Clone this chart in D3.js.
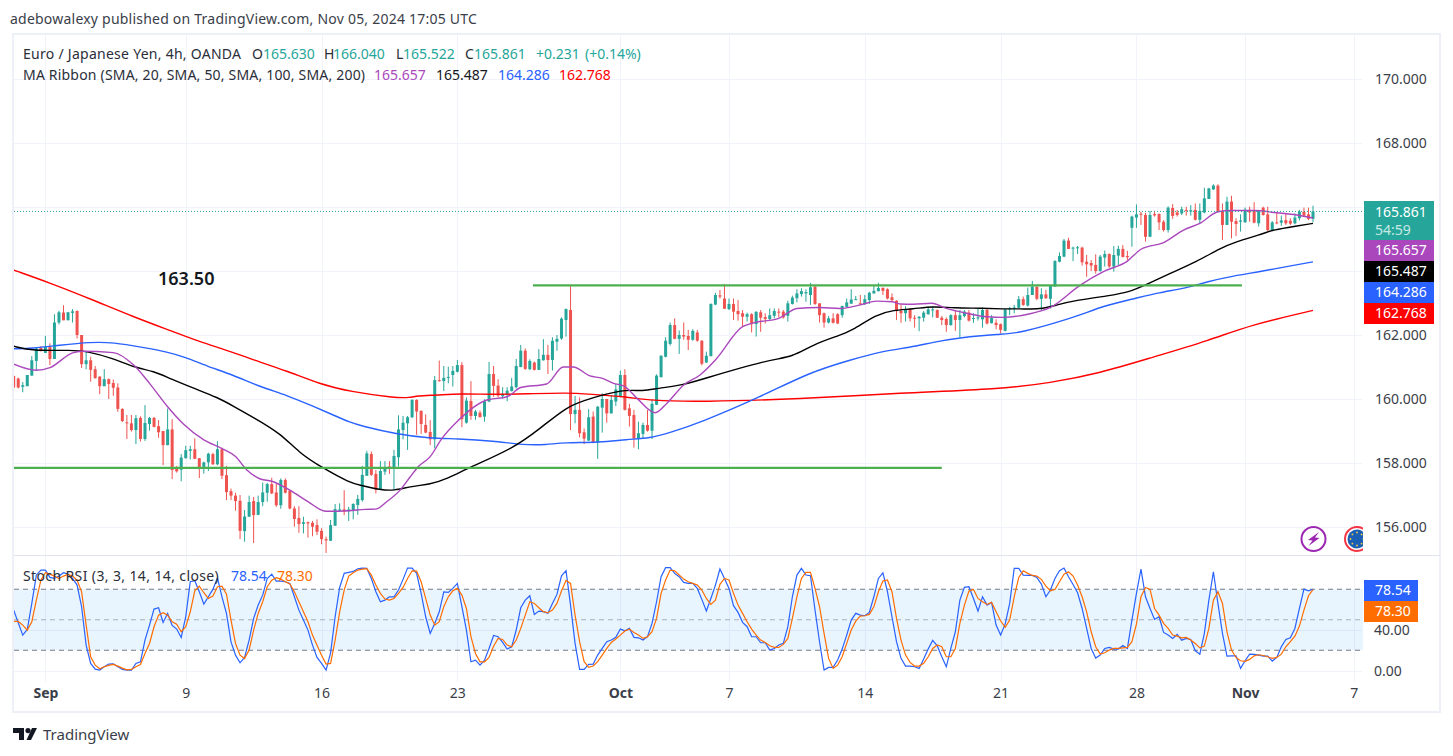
<!DOCTYPE html>
<html>
<head>
<meta charset="utf-8">
<title>EUR/JPY 4h</title>
<script src="https://cdn.jsdelivr.net/npm/d3@7"></script>
<style>
  html, body { margin: 0; padding: 0; background: #fff; }
  svg { display: block; }
  text { font-family: "Noto Sans", sans-serif; font-size: 14px; fill: #2a2e39; }
  .tick text { font-family: "Noto Sans", sans-serif; font-size: 14px; fill: #3a3e49; }
</style>
</head>
<body>
<svg id="chart" width="1453" height="756"></svg>
<script>
// Bar by bar (4h candles, oldest first)
var opens = [160.72,160.64,160.38,160.40,160.73,161.19,161.60,161.44,161.63,161.25,
162.39,162.70,162.46,162.69,162.75,162.00,161.09,161.21,160.93,160.70,
160.40,160.62,160.50,160.36,159.69,159.27,159.24,159.03,159.41,158.75,
159.22,159.41,159.15,159.00,158.56,159.05,157.83,157.79,158.15,158.38,
158.43,158.15,157.88,158.02,158.28,157.96,158.43,157.62,157.12,156.98,
156.82,155.87,156.32,156.81,156.38,156.78,157.07,157.34,157.08,156.68,
157.47,157.14,156.58,156.28,156.10,156.15,156.13,156.06,155.88,155.62,
155.57,156.04,156.51,156.55,156.49,156.51,156.69,156.84,157.60,158.28,
157.66,157.16,157.73,157.89,157.86,158.18,159.03,159.24,159.43,159.97,
159.63,159.19,158.97,158.74,160.59,160.56,160.67,160.75,160.85,161.06,
159.26,159.94,159.47,159.57,159.45,159.92,160.78,160.42,160.09,160.13,
160.25,160.37,161.00,161.51,160.93,161.14,160.91,161.21,161.38,161.22,
161.79,161.89,162.47,162.78,159.53,159.66,158.96,158.70,159.45,158.64,
159.73,160.00,159.55,159.92,160.07,160.75,159.71,159.50,158.77,158.91,
159.19,159.01,159.82,160.68,161.32,161.72,162.31,161.88,162.00,161.97,
161.85,162.08,161.82,161.14,161.34,162.95,163.24,163.14,162.81,162.97,
162.75,162.68,162.57,162.65,162.34,162.71,162.56,162.50,162.60,162.73,
162.73,162.60,162.97,163.15,163.28,163.30,163.25,163.51,162.99,162.68,
162.39,162.52,162.65,162.62,162.88,162.98,163.10,162.99,162.97,163.09,
163.30,163.37,163.47,163.43,163.18,163.07,162.75,162.68,162.81,162.54,
162.52,162.54,162.65,162.78,162.78,162.54,162.50,162.31,162.62,162.47,
162.59,162.70,162.51,162.52,162.49,162.78,162.37,162.38,162.34,162.13,
162.81,162.83,162.85,163.12,162.92,163.25,163.51,163.13,163.27,163.13,
163.51,164.29,164.45,164.95,164.70,164.71,164.73,164.29,164.25,164.19,
164.00,164.42,164.53,164.14,164.48,164.69,164.47,165.35,165.67,165.79,
165.75,165.07,165.78,165.78,165.54,165.28,165.97,165.83,165.80,165.91,
165.86,165.91,165.60,165.83,166.25,166.55,166.67,165.87,165.44,166.17,
165.56,165.54,165.52,165.91,165.88,165.49,165.98,165.77,165.28,165.52,
165.51,165.59,165.57,165.49,165.65,165.85,165.77,165.63];

var highs = [160.74,160.67,160.53,160.75,161.34,161.60,161.65,161.97,161.74,162.65,
162.76,162.93,162.72,162.81,162.77,162.00,161.51,161.32,161.03,160.71,
160.93,160.64,160.61,160.49,159.71,159.50,159.50,159.50,159.46,159.81,
159.44,159.44,159.34,159.00,159.70,159.37,157.91,158.28,158.54,158.54,
158.77,158.15,158.04,158.32,158.32,158.68,158.48,157.91,157.20,157.07,
157.00,156.53,156.98,156.94,156.98,157.39,157.38,157.54,157.36,157.52,
157.52,157.15,156.65,156.65,156.32,156.17,156.19,156.24,155.96,155.70,
156.22,156.72,156.74,157.15,156.63,156.74,157.00,157.91,158.38,158.36,
157.78,158.06,158.06,158.06,158.41,159.49,159.47,159.47,159.99,159.99,
159.64,159.52,159.34,160.72,161.20,161.03,161.01,161.03,161.22,161.15,
160.05,160.56,159.66,159.64,159.99,161.16,161.03,160.62,160.37,160.37,
160.66,161.25,161.69,161.58,161.24,161.17,161.56,161.87,161.69,161.93,
162.00,162.55,162.83,163.53,160.10,160.05,159.08,159.68,159.61,159.78,
160.18,160.00,160.13,160.47,160.89,160.93,159.85,159.66,159.29,159.26,
159.66,159.99,160.77,161.37,161.93,162.39,162.52,162.14,162.39,162.16,
162.18,162.16,161.84,161.48,162.99,163.32,163.41,163.59,163.14,163.14,
163.09,162.78,162.70,162.68,162.75,162.78,162.68,162.83,162.83,162.83,
162.78,163.07,163.23,163.43,163.46,163.43,163.63,163.53,162.99,162.70,
162.59,162.68,162.68,162.91,163.14,163.43,163.22,163.25,163.25,163.35,
163.56,163.63,163.49,163.46,163.30,163.09,162.94,162.90,162.83,162.62,
162.59,162.75,162.88,162.90,162.80,162.59,162.55,162.65,162.78,162.78,
162.78,162.78,162.68,162.83,162.86,162.83,162.62,162.49,162.36,162.82,
162.88,162.94,163.22,163.20,163.48,163.69,163.51,163.46,163.41,163.56,
164.34,164.58,165.00,165.04,164.76,164.78,164.76,164.50,164.34,164.52,
164.50,164.64,164.55,164.78,164.79,164.81,164.63,165.73,166.08,165.85,
165.82,165.88,165.88,165.80,165.59,166.02,166.09,165.91,166.01,166.01,
166.06,166.11,166.11,166.60,166.60,166.71,166.71,166.11,166.32,166.35,
165.65,165.77,165.98,166.01,166.15,165.91,166.01,166.01,165.56,165.85,
165.73,165.80,165.65,165.80,165.91,165.98,165.98,166.04];

var lows = [160.34,160.33,160.21,160.40,160.73,160.88,161.48,161.44,161.06,161.25,
162.33,162.46,162.46,162.39,161.89,160.97,160.93,160.54,160.64,160.15,
160.40,160.00,160.10,159.60,159.28,158.75,158.98,158.59,158.67,158.69,
159.01,159.11,158.79,157.93,158.55,157.50,157.70,157.43,158.14,158.11,
158.12,157.53,157.67,157.75,157.94,157.93,157.50,156.84,156.84,156.51,
155.62,155.54,156.32,155.50,156.37,156.65,156.79,157.03,156.63,156.57,
157.05,156.55,156.01,155.82,155.80,155.67,155.71,155.75,155.46,155.19,
155.57,156.04,156.48,156.37,156.19,156.24,156.38,156.79,157.60,157.60,
157.05,157.16,157.63,157.66,157.16,157.89,158.74,158.41,159.40,158.88,
158.91,158.93,158.56,158.46,160.54,160.25,160.49,160.39,160.83,159.12,
159.23,159.35,159.35,159.43,159.29,159.90,160.07,160.05,160.02,159.93,
160.23,160.33,160.99,160.91,160.91,160.89,160.91,161.20,160.78,160.89,
161.51,161.85,161.95,159.03,159.24,158.80,158.59,158.69,158.62,158.13,
158.95,159.26,159.55,159.78,160.05,159.64,159.14,158.48,158.43,158.77,
158.98,158.75,159.81,160.68,161.30,161.67,161.87,161.41,161.85,161.53,
161.82,161.79,161.05,161.13,161.33,162.93,163.14,162.81,162.78,162.47,
162.45,162.28,162.42,162.08,161.95,162.10,162.36,162.47,162.52,162.55,
162.51,162.42,162.95,163.02,163.20,163.04,162.94,162.94,162.39,162.23,
162.36,162.36,162.34,162.54,162.86,162.97,163.09,162.94,162.94,162.97,
163.29,163.36,163.25,163.11,163.04,162.47,162.38,162.42,162.42,162.23,
162.12,162.42,162.63,162.55,162.53,162.31,162.10,162.29,162.13,161.92,
162.55,162.42,162.38,162.45,162.23,162.33,162.36,162.18,162.05,162.11,
162.62,162.68,162.85,162.91,162.89,163.25,163.09,162.78,163.13,162.83,
163.51,164.27,164.43,164.69,164.31,164.53,164.17,163.82,164.00,163.92,
163.98,164.14,164.10,163.98,164.19,164.42,164.34,164.76,165.35,165.44,
164.92,165.06,165.70,165.28,165.23,165.20,165.63,165.70,165.75,165.73,
165.73,165.58,165.49,165.80,166.25,166.53,165.83,164.97,165.44,165.02,
165.09,165.23,165.51,165.54,165.49,165.39,165.73,165.25,165.26,165.46,
165.41,165.44,165.44,165.46,165.58,165.71,165.59,165.522];

var closes = [160.36,160.36,160.43,160.75,161.21,161.58,161.50,161.63,161.25,162.39,
162.71,162.46,162.71,162.74,162.00,161.09,161.21,160.91,160.65,160.40,
160.62,160.47,160.35,159.69,159.31,159.25,159.03,159.40,158.75,159.25,
159.41,159.13,158.96,158.56,159.05,157.78,157.74,158.17,158.40,158.43,
158.13,157.87,158.02,158.29,157.96,158.43,157.60,157.09,156.98,156.81,
155.88,156.33,156.78,156.37,156.78,157.08,157.34,157.05,156.68,157.47,
157.07,156.58,156.25,156.09,156.15,156.11,156.01,155.85,155.62,155.58,
156.06,156.56,156.55,156.48,156.55,156.72,156.88,157.63,158.30,157.63,
157.16,157.75,157.86,157.85,158.22,159.05,159.26,159.43,159.97,159.61,
159.22,158.95,158.74,160.59,160.57,160.66,160.69,160.88,161.06,159.37,
159.95,159.47,159.61,159.43,159.93,160.78,160.41,160.11,160.16,160.26,
160.39,161.03,161.51,160.94,161.19,160.91,161.25,161.38,161.22,161.82,
161.88,162.51,162.81,159.53,159.66,158.93,158.76,159.43,158.64,159.76,
160.00,159.55,159.97,160.30,160.75,159.66,159.47,158.77,158.93,159.19,
159.01,159.85,160.73,161.35,161.82,162.31,161.88,162.00,161.95,161.85,
162.13,161.82,161.10,161.35,162.97,163.25,163.20,162.82,162.97,162.73,
162.65,162.57,162.65,162.34,162.72,162.54,162.50,162.62,162.75,162.71,
162.55,162.99,163.17,163.30,163.37,163.34,163.49,162.97,162.62,162.39,
162.52,162.38,162.36,162.91,163.02,163.11,163.12,162.97,163.12,163.32,
163.38,163.47,163.38,163.14,163.09,162.75,162.68,162.81,162.52,162.51,
162.57,162.70,162.80,162.80,162.54,162.47,162.31,162.62,162.47,162.62,
162.73,162.45,162.53,162.55,162.78,162.36,162.53,162.31,162.16,162.80,
162.83,162.86,163.12,162.94,163.25,163.51,163.13,163.27,163.15,163.54,
164.31,164.47,164.95,164.69,164.73,164.74,164.27,164.21,164.17,164.00,
164.45,164.53,164.14,164.50,164.69,164.44,164.43,165.70,165.77,165.77,
165.07,165.75,165.74,165.52,165.28,165.98,165.72,165.75,165.93,165.88,
165.90,165.60,165.88,166.27,166.58,166.67,165.85,165.44,166.17,165.54,
165.47,165.58,165.91,165.83,165.51,165.89,165.75,165.28,165.52,165.49,
165.58,165.49,165.48,165.67,165.85,165.73,165.63,165.861];

// moving averages, read at the bends
var ma20Bars = [0,5,8,13,15,22,26.5,30,34,37.5,42,46,49,51.5,54.5,57,61,65,69,74,77.6,80,82.4,85.4,87.6,89.4,92,94.6,97.9,104.5,109,112,117.7,121.4,123.6,127.3,129.9,132.5,135,137.7,141.7,144.3,148,151.6,155,161,163.4,169,173,178,182.5,187,190.6,194,195.8,198.7,202.8,206,210.5,215,218.6,224,229,235.6,240.7,246,249,254,258.4,262,266,269,274,279,283.4,287];
var ma20 = [161.09,160.90,160.98,161.44,161.49,161.45,161.06,160.49,159.76,159.22,158.72,158.45,158.20,157.78,157.50,157.43,157.15,156.79,156.49,156.51,156.55,156.56,156.79,157.16,157.57,157.89,158.20,158.77,159.29,159.97,160.07,160.36,160.47,161.00,161.00,160.72,160.65,160.49,160.39,160.02,159.57,159.87,160.44,160.75,161.22,162.26,162.38,162.52,162.83,162.86,162.83,162.94,163.06,163.04,162.97,162.96,162.99,162.83,162.68,162.57,162.55,162.65,162.86,163.56,163.98,164.31,164.68,164.89,165.28,165.49,165.85,165.89,165.89,165.82,165.75,165.657];

var ma50Bars = [0,4,13,16,22,26.5,31,34.5,40.4,45,48.5,53,59,63,68.4,74.3,76.5,81,83.9,88,92,95.7,100.8,110.4,116.3,122.2,126,130,135.4,139,142,148,151.6,167,171.9,176.7,182,185,190.6,194.3,198.7,203,207.6,214,218.6,222.3,226.7,230.4,234.8,242,246.2,250.3,255.5,261.3,266.5,270,275.3,278,281,287];
var ma50 = [161.65,161.50,161.53,161.50,161.27,160.99,160.87,160.64,160.30,160.05,159.78,159.42,158.92,158.32,157.83,157.38,157.31,157.16,157.13,157.28,157.33,157.50,157.87,158.46,159.08,159.76,159.95,160.13,160.30,160.24,160.33,160.44,160.60,161.24,161.30,161.71,161.97,162.12,162.65,162.78,162.81,162.90,162.84,162.84,162.81,162.82,162.80,162.94,163.09,163.23,163.33,163.58,163.93,164.29,164.71,164.92,165.13,165.28,165.35,165.487];

var ma100Bars = [0,4,10,17,22,28.6,34,38,42.6,48.5,54.4,60.3,66,70.6,74.3,76.5,84.6,92,97.9,106,112.6,117.7,121.4,129.5,135.4,140.6,145,151.6,164.9,175.9,184.8,192,198,203,209,218,221.6,229,235.6,240.7,247.4,253,259,263.6,269.5,275.3,281.2,287];
var ma100 = [161.57,161.58,161.68,161.78,161.77,161.61,161.47,161.30,161.03,160.75,160.38,160.12,159.78,159.50,159.27,159.17,158.90,158.77,158.76,158.69,158.56,158.57,158.64,158.64,158.74,158.77,158.95,159.26,160.06,160.84,161.22,161.50,161.61,161.77,161.92,162.03,162.05,162.33,162.62,162.91,163.13,163.33,163.46,163.67,163.85,163.98,164.14,164.286];

var ma200Bars = [0,8,17.6,26.4,35.3,41,47,53,60.3,67.7,74.3,83.9,87.6,89,93.5,98.6,106,113.3,122.2,127.3,135.4,140.6,151.6,173.7,195.8,217.9,228.9,240,251,264.3,273.1,287];
var ma200 = [164.03,163.63,163.09,162.57,162.10,161.79,161.53,161.22,160.88,160.46,160.23,160.04,160.04,160.10,160.12,160.17,160.14,160.16,160.20,160.15,160.07,159.95,159.91,160.00,160.19,160.31,160.50,160.81,161.28,161.84,162.31,162.768];

// stoch RSI, one value per bar
var stochK = [58.4,46.2,34.3,39.7,64.9,92.2,97.1,97.1,90,89,91.3,94.5,93.2,89,82.6,61.7,24.6,6.9,1.4,.5,
3.7,6.3,6.6,3.7,1.1,.5,.5,6.9,8.5,29.4,43.9,59.4,60.7,46.5,55.2,43.6,40.1,32,52,85.8,
86.8,76.1,64.2,71.3,78.4,89.7,71.3,55.2,27.8,14.9,7.5,12.7,29.4,50.4,63.3,72.9,89,93.2,86.4,86.4,
85.8,84.2,71.3,58.4,48.8,39.1,24.6,12.7,6.9,.5,17.2,52,80.3,93.9,94.8,95.8,98.4,99,98.7,89,
76.1,66.5,68.1,71.3,71.3,77.8,88.1,99,99,93.9,74.5,52,35.9,45.5,56.8,76.1,75.5,79.4,84.2,61.7,
39.1,8.5,10.1,5.3,10.1,21.4,33.9,32.7,27.2,20.8,23,39.2,60.7,68.1,72.3,54.3,57.5,56.9,55.3,64.9,
73.6,91.6,96.5,63.3,26.3,1.1,1.1,6,6.3,15,21.4,27.9,29.5,32.1,40.1,38.5,40.8,32.1,31.7,29.5,
32.7,45.6,66.5,90.7,99.4,99.4,93.9,90.7,85.2,84.2,84.2,79.4,68.8,57.5,69.7,82.6,98.1,89,79.4,62.7,
56.2,46.6,42.4,32.7,32.7,26.9,26.9,19.8,21.4,24.7,26.3,42.4,71.3,92.3,98.7,92.3,91.6,58.5,27.9,.5,
3.1,3.1,10.2,20.8,34.3,48.8,55.3,53.6,53,56.2,71.3,89,94.5,76.2,52,27.9,11.8,4.4,4.4,3.7,
2.1,11.1,20.8,29.2,24,13.4,3.7,21.4,37.5,68.1,80.4,81,69.7,57.5,71.3,63.3,65.9,44,34.3,44.9,
64.9,98.7,98.7,92.2,91.9,91.9,90,83.6,71.3,77.8,89,96.4,99,90.6,83.2,75.2,60,40.7,21.4,12.1,
15,21.4,22.4,20.8,20.8,24.3,21.4,48.8,74.5,98,71.3,60,49.4,52,36.9,34.3,31.1,34.9,29.4,31.1,
30.1,19.1,15.9,35.9,68.1,95.5,64.9,35.9,14,14.3,14.3,2.1,9.5,15.9,15.6,15,14,14,9.2,12.7,
23,30.1,31.7,40.7,60,78.7,77.1,78.54];

var stochD = [47.5,47.5,43.9,39.1,47.2,68.1,87.4,94.5,93.2,91.3,89,91.3,92.9,91.3,87.4,76.1,43.9,13.4,5.3,1.8,
3.7,5,5.9,4.3,2.4,.8,1.1,3.7,5.9,16.6,26.2,42.3,53.6,55.9,53.6,47.2,44.9,37.5,42.3,56.8,
77.1,81.6,75.2,69.7,72,81,81.6,73.9,48.8,26.2,14.9,11.7,19.8,39.1,55.2,66.5,81,87.4,89.7,88.4,
85.8,83.6,76.1,66.5,56.8,47.2,34.3,24.6,14.9,6.3,6.9,29.4,56.8,77.8,91.3,94.5,97.1,98,98.4,92.2,
82.6,74.5,69.1,68.1,69.7,74.5,80.3,89,96.4,96.1,85.8,69.7,53.6,43.9,47.2,61.7,71.3,77.1,79.4,72.9,
60,32.7,16.6,8.5,8.5,12.7,23.6,31.1,30.1,24.7,23,29.5,40.8,53.6,66.5,64.9,60.7,56.9,55.9,58.5,
64.9,76.8,87.1,84.2,53.6,27.9,8.6,3.1,4.4,8.6,15,21.4,27.2,30.5,34.3,38.2,40.1,36.9,34.3,31.1,
32.7,37.5,50.4,74.6,87.5,97.1,96.5,92.3,88.4,85.8,84.2,82.6,77.8,69.7,63.9,68.1,83.3,89,87.5,74.6,
63.3,55.3,47.2,40.1,34.3,29.5,27.2,24,22.4,22.4,25.3,31.1,50.4,71.3,89,94.9,94.9,79.4,61.7,35.9,
11.8,2.1,5.3,13.4,26.3,39.2,47.8,52.7,53,54.3,61.7,76.2,86.5,87.5,76.2,50.4,29.5,15,7.9,4.4,
4.4,7,13.4,21.4,24.7,23,13.4,13.4,21.4,45.6,63.3,76.8,78.4,69.7,66.5,63.9,65.9,56.9,48.1,41.7,
48.8,71.3,90,96.4,93.9,91.9,91.3,88.1,81.6,77.1,78.4,85.8,93.2,95.5,91.3,82.6,71.3,56.8,37.5,23,
15.9,17.2,19.8,21.4,21.4,22,22.4,27.9,44.9,71.3,80.3,78.4,60,53.6,45.6,40.7,34.3,33.3,31.7,32,
29.5,26.2,22,23.7,40.7,68.1,76.2,64.9,37.5,19.8,12.7,9.5,8.9,10.8,14.3,15.3,14.6,13.4,11.8,12.7,
15.9,23,27.9,33.3,43,58.4,72.3,78.30];
// the stoch values above were read with a slightly short ruler
var stochReadFactor = 1.018;

// axis ticks
var priceGridTicks = [156, 158, 160, 162, 164, 166, 168, 170];
var priceLabelTicks = [156, 158, 160, 162, 168, 170]; // 164 and 166 sit behind the price tags
var stochTicks = [0, 40];
var stochLevels = [80, 50, 20];
var timeTickBars = [7, 38, 68, 98, 134, 158, 188, 218, 248, 272, 296];
var timeTickLabels = ["Sep", "9", "16", "23", "Oct", "7", "14", "21", "28", "Nov", "7"];
var monthLabels = ["Sep", "Oct", "Nov"];

// hand drawn green lines: [first bar, last bar, price]
var resistanceLine = [114.7, 271.3, 163.55];
var supportLine = [-0.2, 205, 157.85];
var noteLabel = "163.50";

// price labels on the right
var lastLabels = ["165.657", "165.487", "164.286", "162.768"];
var lastLabelColors = ["#ab47bc", "#000000", "#2962ff", "#ff0000"];
var stochLabels = ["78.54", "78.30"];
var stochColors = ["#2962ff", "#ff6d00"];
var lastClose = 165.861;

var UP = "#26a69a", DOWN = "#ef5350", GRID = "#f0f3fa", FRAME = "#eef0f7";

var svg = d3.select("#chart");

// scales
var x = d3.scaleLinear().domain([0, 287]).range([13.7, 1313]);
var y = d3.scaleLinear().domain([156, 170]).range([527, 79]);
var ys = d3.scaleLinear().domain([0, 100]).range([670.6, 568.9]);

var defs = svg.append("defs");
defs.append("clipPath").attr("id", "plot").append("rect")
  .attr("x", 14).attr("y", 35).attr("width", 1349).attr("height", 520);
defs.append("clipPath").attr("id", "lower").append("rect")
  .attr("x", 14).attr("y", 556).attr("width", 1349).attr("height", 128);
defs.append("clipPath").attr("id", "badge").append("rect")
  .attr("x", 1300).attr("y", 520).attr("width", 63).attr("height", 35);

// grid
var grid = svg.append("g");
grid.selectAll("line.gy").data(priceGridTicks).enter().append("line")
  .attr("x1", 14).attr("x2", 1362)
  .attr("y1", function(d) { return Math.round(y(d)) + 0.5; })
  .attr("y2", function(d) { return Math.round(y(d)) + 0.5; })
  .attr("stroke", GRID);
grid.selectAll("line.gs").data(stochTicks).enter().append("line")
  .attr("x1", 14).attr("x2", 1362)
  .attr("y1", function(d) { return Math.round(ys(d)) + 0.5; })
  .attr("y2", function(d) { return Math.round(ys(d)) + 0.5; })
  .attr("stroke", GRID);
grid.selectAll("line.gx").data(timeTickBars).enter().append("line")
  .attr("x1", function(d) { return Math.round(x(d)) + 0.5; })
  .attr("x2", function(d) { return Math.round(x(d)) + 0.5; })
  .attr("y1", 35).attr("y2", 682)
  .attr("stroke", GRID);

// candles
var candleData = d3.range(opens.length).map(function(i) {
  return { i: i, o: opens[i], h: highs[i], l: lows[i], c: closes[i] };
});
var candles = svg.append("g").attr("clip-path", "url(#plot)")
  .selectAll("g").data(candleData).enter().append("g")
  .attr("fill", function(d) { return d.c >= d.o ? UP : DOWN; })
  .attr("stroke", function(d) { return d.c >= d.o ? UP : DOWN; });
candles.append("line")
  .attr("x1", function(d) { return x(d.i); })
  .attr("x2", function(d) { return x(d.i); })
  .attr("y1", function(d) { return y(d.h); })
  .attr("y2", function(d) { return y(d.l); });
candles.append("rect")
  .attr("stroke", "none")
  .attr("x", function(d) { return x(d.i) - 1.5; })
  .attr("width", 3)
  .attr("y", function(d) { return y(Math.max(d.o, d.c)); })
  .attr("height", function(d) { return Math.max(1, Math.abs(y(d.o) - y(d.c))); });

// moving averages
var smoothLine = d3.line().curve(d3.curveBasis)
  .x(function(d) { return x(d[0]); })
  .y(function(d) { return y(d[1]); });
var bendLine = d3.line().curve(d3.curveMonotoneX)
  .x(function(d) { return x(d[0]); })
  .y(function(d) { return y(d[1]); });
var ribbons = [
  [ma200Bars, ma200, "#ff0000", smoothLine],
  [ma100Bars, ma100, "#2962ff", smoothLine],
  [ma50Bars, ma50, "#000000", smoothLine],
  [ma20Bars, ma20, "#ab47bc", bendLine]
];
var maGroup = svg.append("g").attr("clip-path", "url(#plot)");
ribbons.forEach(function(r) {
  maGroup.append("path")
    .datum(d3.zip(r[0], r[1]))
    .attr("fill", "none").attr("stroke", r[2]).attr("stroke-width", 1.4)
    .attr("d", r[3]);
});

// green trend lines
[resistanceLine, supportLine].forEach(function(t) {
  maGroup.append("line")
    .attr("x1", x(t[0])).attr("x2", x(t[1]))
    .attr("y1", y(t[2])).attr("y2", y(t[2]))
    .attr("stroke", "#4caf50").attr("stroke-width", 2.2);
});
svg.append("text").attr("x", 158).attr("y", 285).style("font-weight", 600)
  .style("font-size", "18px").style("fill", "#131722").text(noteLabel);

// last price line
svg.append("line")
  .attr("x1", 14).attr("x2", 1362)
  .attr("y1", y(lastClose)).attr("y2", y(lastClose))
  .attr("stroke", UP).attr("stroke-dasharray", "1 2");

// stoch band and levels
var lowerPane = svg.append("g").attr("clip-path", "url(#lower)");
lowerPane.append("rect")
  .attr("x", 14).attr("width", 1349)
  .attr("y", ys(80)).attr("height", ys(20) - ys(80))
  .attr("fill", "#2196f3").attr("fill-opacity", 0.1);
stochLevels.forEach(function(v) {
  lowerPane.append("line")
    .attr("x1", 14).attr("x2", 1362)
    .attr("y1", ys(v)).attr("y2", ys(v))
    .attr("stroke", "#787b86")
    .attr("stroke-opacity", v === 50 ? 0.55 : 1)
    .attr("stroke-dasharray", "5 4");
});
var stochLine = d3.line()
  .x(function(d, i) { return x(i); })
  .y(function(d) { return ys(d * stochReadFactor); });
lowerPane.append("path").datum(stochK)
  .attr("fill", "none").attr("stroke", stochColors[0]).attr("stroke-width", 1.2)
  .attr("d", stochLine);
lowerPane.append("path").datum(stochD)
  .attr("fill", "none").attr("stroke", stochColors[1]).attr("stroke-width", 1.2)
  .attr("d", stochLine);

// frame and pane divider
svg.append("rect").attr("x", 13).attr("y", 34).attr("width", 1427).attr("height", 678)
  .attr("fill", "none").attr("stroke", FRAME).attr("stroke-width", 2);
svg.append("line").attr("x1", 14).attr("x2", 1440).attr("y1", 555.5).attr("y2", 555.5)
  .attr("stroke", "#e0e3eb");

// axes
var priceAxis = svg.append("g").attr("transform", "translate(1367,0)")
  .call(d3.axisRight(y).tickValues(priceLabelTicks).tickFormat(d3.format(".3f")).tickSize(0).tickPadding(8));
priceAxis.select(".domain").remove();
var stochAxis = svg.append("g").attr("transform", "translate(1367,0)")
  .call(d3.axisRight(ys).tickValues(stochTicks).tickFormat(d3.format(".2f")).tickSize(0).tickPadding(7));
stochAxis.select(".domain").remove();
var timeAxis = svg.append("g").attr("transform", "translate(0,680)")
  .call(d3.axisBottom(x).tickValues(timeTickBars)
    .tickFormat(function(d, i) { return timeTickLabels[i]; }).tickSize(0).tickPadding(8));
timeAxis.select(".domain").remove();
timeAxis.selectAll("text")
  .style("font-weight", function(d, i) { return monthLabels.indexOf(timeTickLabels[i]) >= 0 ? 700 : 400; });

// right hand price tags
svg.append("rect").attr("x", 1364).attr("y", 201).attr("width", 70).attr("height", 39)
  .attr("fill", UP);
svg.append("text").attr("x", 1375).attr("y", 217).style("fill", "#fff").text(d3.format(".3f")(lastClose));
svg.append("text").attr("x", 1375).attr("y", 235).style("fill", "#c6e9e5").text("54:59");
lastLabels.forEach(function(t, i) {
  svg.append("rect").attr("x", 1364).attr("y", 240 + i * 21).attr("width", 70).attr("height", 21)
    .attr("fill", lastLabelColors[i]);
  svg.append("text").attr("x", 1375).attr("y", 255 + i * 21).style("fill", "#fff").text(t);
});
stochLabels.forEach(function(t, i) {
  svg.append("rect").attr("x", 1364).attr("y", 580 + i * 21).attr("width", 54).attr("height", 21)
    .attr("fill", stochColors[i]);
  svg.append("text").attr("x", 1375).attr("y", 595 + i * 21).style("fill", "#fff").text(t);
});

// badges
var badge = svg.append("g").attr("clip-path", "url(#badge)");
badge.append("circle").attr("cx", 1313.5).attr("cy", 539).attr("r", 12)
  .attr("fill", "#fff").attr("stroke", "#9c27b0").attr("stroke-width", 2);
badge.append("path").attr("fill", "#9c27b0")
  .attr("d", "M1319 532 L1308 540 L1312.5 540.5 L1308.5 546 L1319.5 538 L1315 537.5 Z");
badge.append("circle").attr("cx", 1357).attr("cy", 539).attr("r", 12)
  .attr("fill", "#fff").attr("stroke", "#f23645").attr("stroke-width", 2);
badge.append("circle").attr("cx", 1357).attr("cy", 539).attr("r", 9.5).attr("fill", "#1a5fb4");
d3.range(8).forEach(function(k) {
  badge.append("circle").attr("r", 0.9).attr("fill", "#f6c944")
    .attr("cx", 1357 + 6.5 * Math.cos(k * Math.PI / 4))
    .attr("cy", 539 + 6.5 * Math.sin(k * Math.PI / 4));
});

// header text
function label(px, py, txt, color, spacing) {
  return svg.append("text").attr("x", px).attr("y", py)
    .style("fill", color || "#2a2e39")
    .style("letter-spacing", (spacing || 0) + "px")
    .text(txt);
}
label(10, 24, "adebowalexy published on TradingView.com, Nov 05, 2024 17:05 UTC", "#3a3e49", 0.22);
label(23, 59, "Euro / Japanese Yen, 4h, OANDA", null, 0.27);
label(252, 59, "O");
label(263, 59, "165.630", UP);
label(324, 59, "H");
label(333, 59, "166.040", UP);
label(396, 59, "L");
label(403, 59, "165.522", UP);
label(465, 59, "C");
label(474, 59, "165.861", UP);
label(536, 59, "+0.231", UP);
label(585, 59, "(+0.14%)", UP);
label(23, 80, "MA Ribbon (SMA, 20, SMA, 50, SMA, 100, SMA, 200)", null, 0.19);
label(374, 80, "165.657", "#ab47bc");
label(436, 80, "165.487", "#131722");
label(498, 80, "164.286", "#2962ff");
label(559, 80, "162.768", "#ff0000");
label(23, 581, "Stoch RSI (3, 3, 14, 14, close)", null, 0.38);
label(231, 581, "78.54", stochColors[0]);
label(277, 581, "78.30", stochColors[1]);

// logo
var logo = svg.append("g").attr("transform", "translate(13,728)").attr("fill", "#131722");
logo.append("path").attr("d", "M0 0 H11 V12 H6 V5 H0 Z");
logo.append("circle").attr("cx", 15).attr("cy", 2.6).attr("r", 2.6);
logo.append("path").attr("d", "M18 12 L13.5 12 L19 0 L24 0 Z");
svg.append("text").attr("x", 43).attr("y", 740).style("font-size", "15px").style("fill", "#3a3e49").text("TradingView");
</script>
</body>
</html>
